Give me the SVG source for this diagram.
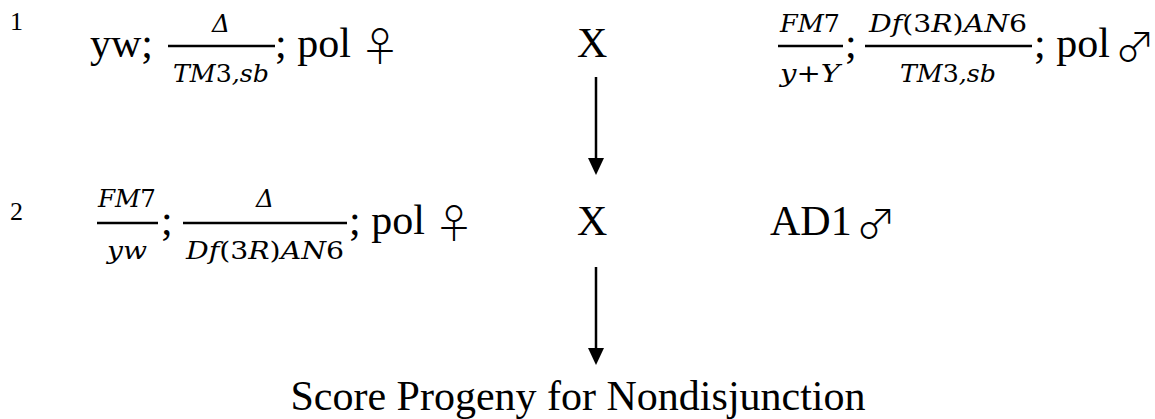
<svg xmlns="http://www.w3.org/2000/svg" width="1155" height="419" viewBox="0 0 1155 419">
<style>
.t{font-family:"Liberation Serif","Times New Roman",serif;font-size:42px;fill:#000}
.lab{font-family:"Liberation Serif","Times New Roman",serif;font-size:26px;fill:#000}
.m{font-family:"DejaVu Serif",serif;font-style:italic;font-size:25px;fill:#000;text-anchor:middle}
.u{font-style:normal}
.sym{font-family:"Noto Sans CJK JP","DejaVu Sans",sans-serif;font-size:40px;font-weight:300;fill:#000}
.bar{stroke:#000;stroke-width:2.4}
.ln{stroke:#000;stroke-width:2.5;fill:none}
</style>
<rect width="1155" height="419" fill="#fff"/>
<g id="row1-label"><text class="lab" x="10" y="30">1</text></g>
<g id="cross1-female">
<text class="t" x="90" y="57">yw;</text>
<text class="m" x="221" y="32">Δ</text>
<line class="bar" x1="168" y1="46" x2="275" y2="46"/>
<text class="m" x="221" y="82" textLength="96" lengthAdjust="spacingAndGlyphs">TM<tspan class="u">3</tspan>,sb</text>
<text class="t" x="275" y="57">; pol</text>
<text class="sym" x="360" y="61">♀</text>
</g>
<g id="cross1-x"><text class="t" x="577" y="57">X</text></g>
<g id="cross1-male">
<text class="m" x="810" y="32" textLength="60" lengthAdjust="spacingAndGlyphs">FM<tspan class="u">7</tspan></text>
<line class="bar" x1="778" y1="46" x2="843" y2="46"/>
<text class="m" x="810" y="82" textLength="60" lengthAdjust="spacingAndGlyphs">y<tspan class="u">+</tspan>Y</text>
<text class="t" x="845" y="57">;</text>
<text class="m" x="948" y="32" textLength="158" lengthAdjust="spacingAndGlyphs">Df<tspan class="u">(3</tspan>R<tspan class="u">)</tspan>AN<tspan class="u">6</tspan></text>
<line class="bar" x1="865" y1="46" x2="1032" y2="46"/>
<text class="m" x="948" y="82" textLength="96" lengthAdjust="spacingAndGlyphs">TM<tspan class="u">3</tspan>,sb</text>
<text class="t" x="1034" y="57">; pol</text>
<text class="sym" x="1115" y="61">♂</text>
</g>
<g id="row2-label"><text class="lab" x="10" y="220">2</text></g>
<g id="cross2-female">
<text class="m" x="127" y="207" textLength="58" lengthAdjust="spacingAndGlyphs">FM<tspan class="u">7</tspan></text>
<line class="bar" x1="97" y1="223" x2="158" y2="223"/>
<text class="m" x="127" y="259" textLength="40" lengthAdjust="spacingAndGlyphs">yw</text>
<text class="t" x="161" y="234">;</text>
<text class="m" x="265" y="207">Δ</text>
<line class="bar" x1="183" y1="223" x2="347" y2="223"/>
<text class="m" x="265" y="259" textLength="158" lengthAdjust="spacingAndGlyphs">Df<tspan class="u">(3</tspan>R<tspan class="u">)</tspan>AN<tspan class="u">6</tspan></text>
<text class="t" x="349" y="234">; pol</text>
<text class="sym" x="434" y="238">♀</text>
</g>
<g id="cross2-x"><text class="t" x="577" y="235">X</text></g>
<g id="cross2-male">
<text class="t" x="770" y="235">AD1</text>
<text class="sym" x="856" y="238">♂</text>
</g>
<g id="result"><text class="t" x="578" y="410" text-anchor="middle">Score Progeny for Nondisjunction</text></g>
<g id="connectors">
<line class="ln" x1="596" y1="77" x2="596" y2="158"/>
<polygon points="588,158 604,158 596,175" fill="#000"/>
<line class="ln" x1="596" y1="267" x2="596" y2="348"/>
<polygon points="588,348 604,348 596,365" fill="#000"/>
</g>
</svg>
